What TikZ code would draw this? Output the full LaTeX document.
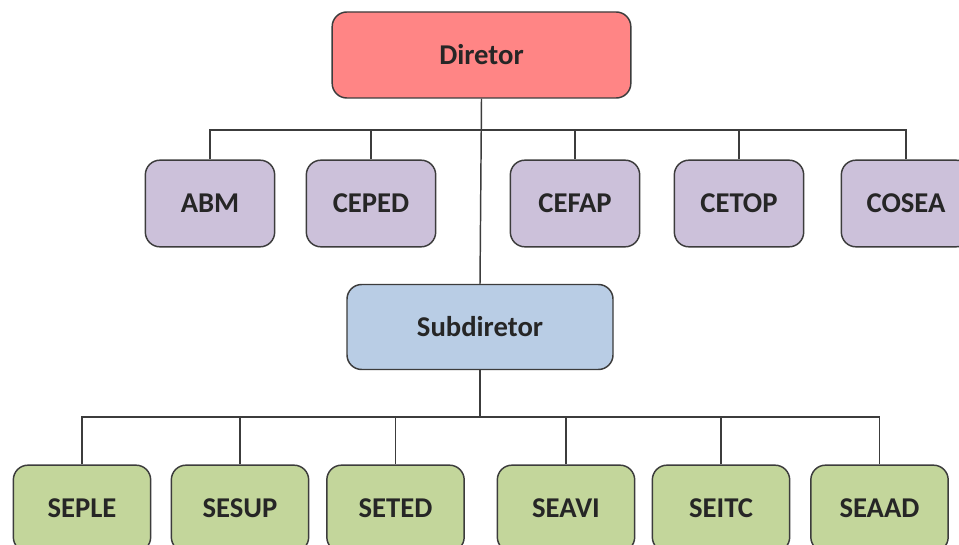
\documentclass[tikz,border=0pt]{standalone}
\usepackage{fontspec}
\setmainfont{Carlito}
\definecolor{dirfill}{HTML}{FF8585}
\definecolor{unitfill}{HTML}{CCC1DA}
\definecolor{subfill}{HTML}{B9CDE5}
\definecolor{secfill}{HTML}{C3D69B}
\definecolor{edgegray}{HTML}{3C3C3C}
\begin{document}
\begin{tikzpicture}[x=0.75pt,y=-0.75pt,
  box/.style={draw=edgegray, line width=1.1pt, rounded corners=11pt,
    inner sep=0pt, text=black!85, font=\fontsize{21.5}{26}\selectfont\bfseries},
  topbox/.style={box, fill=dirfill, minimum width=224pt, minimum height=64.5pt},
  unitbox/.style={box, fill=unitfill, minimum width=97pt, minimum height=65pt},
  subbox/.style={box, fill=subfill, minimum width=199.5pt, minimum height=63.75pt},
  secbox/.style={box, fill=secfill, minimum width=103pt, minimum height=65pt},
  link/.style={draw=edgegray, line width=1.1pt}]
  \clip (0,0) rectangle (959,545);
  \fill[white] (0,0) rectangle (959,545);

  % top level
  \node[topbox] (dir) at (481.5,55) {Diretor};

  % units attached to the director
  \node[unitbox] (abm)   at (210,203.5) {ABM};
  \node[unitbox] (ceped) at (371,203.5) {CEPED};
  \node[unitbox] (cefap) at (575,203.5) {CEFAP};
  \node[unitbox] (cetop) at (739,203.5) {CETOP};
  \node[unitbox] (cosea) at (906,203.5) {COSEA};

  % deputy
  \node[subbox] (sub) at (480,327) {Subdiretor};

  % sections under the deputy
  \node[secbox] (seple) at (82,508.5)  {SEPLE};
  \node[secbox] (sesup) at (240,508.5) {SESUP};
  \node[secbox] (seted) at (395.5,508.5) {SETED};
  \node[secbox] (seavi) at (566,508.5) {SEAVI};
  \node[secbox] (seitc) at (721,508.5) {SEITC};
  \node[secbox] (seaad) at (879.5,508.5) {SEAAD};

  % bus junctions
  \coordinate (busA) at (dir.south |- 0,130);
  \coordinate (busB) at (sub.south |- 0,417);

  % connectors
  \draw[link] (dir.south) -- (sub.north);
  \foreach \n in {abm,ceped,cefap,cetop,cosea}
    \draw[link] (\n.north) |- (busA);
  \draw[link] (sub.south) -- (busB);
  \foreach \n in {seple,sesup,seted,seavi,seitc,seaad}
    \draw[link] (\n.north) |- (busB);
\end{tikzpicture}
\end{document}
